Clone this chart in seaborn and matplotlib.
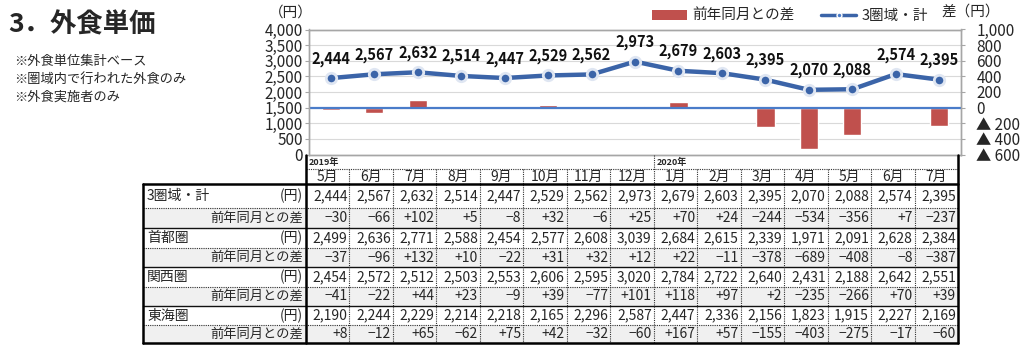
import numpy as np
import pandas as pd
import matplotlib
matplotlib.use("Agg")
import matplotlib.pyplot as plt
from matplotlib.patches import Patch
from matplotlib.lines import Line2D
import seaborn as sns

# ---- data -------------------------------------------------------------
periods = ["2019-05", "2019-06", "2019-07", "2019-08", "2019-09", "2019-10",
           "2019-11", "2019-12", "2020-01", "2020-02", "2020-03", "2020-04",
           "2020-05", "2020-06", "2020-07"]
months = ["5月", "6月", "7月", "8月", "9月", "10月", "11月", "12月",
          "1月", "2月", "3月", "4月", "5月", "6月", "7月"]
year_labels = ["2019年", "2020年"]
year_starts = [0, 8]

total = [2444, 2567, 2632, 2514, 2447, 2529, 2562, 2973, 2679, 2603, 2395, 2070, 2088, 2574, 2395]
total_diff = [-30, -66, 102, 5, -8, 32, -6, 25, 70, 24, -244, -534, -356, 7, -237]
shutoken = [2499, 2636, 2771, 2588, 2454, 2577, 2608, 3039, 2684, 2615, 2339, 1971, 2091, 2628, 2384]
shutoken_diff = [-37, -96, 132, 10, -22, 31, 32, 12, 22, -11, -378, -689, -408, -8, -387]
kansai = [2454, 2572, 2512, 2503, 2553, 2606, 2595, 3020, 2784, 2722, 2640, 2431, 2188, 2642, 2551]
kansai_diff = [-41, -22, 44, 23, -9, 39, -77, 101, 118, 97, 2, -235, -266, 70, 39]
tokai = [2190, 2244, 2229, 2214, 2218, 2165, 2296, 2587, 2447, 2336, 2156, 1823, 1915, 2227, 2169]
tokai_diff = [8, -12, 65, -62, 75, 42, -32, -60, 167, 57, -155, -403, -275, -17, -60]

region_names = ["3圏域・計", "首都圏", "関西圏", "東海圏"]
region_values = [total, shutoken, kansai, tokai]
region_diffs = [total_diff, shutoken_diff, kansai_diff, tokai_diff]

left_ticks = list(range(0, 4001, 500))
right_ticks = list(range(-600, 1001, 200))

df = pd.DataFrame({"period": periods, "total": total, "diff": total_diff})

# ---- style ------------------------------------------------------------
sns.set_theme(style="white")
plt.rcParams["font.family"] = ["Noto Sans CJK JP", "DejaVu Sans"]

BLUE = "#3b64a8"
ZERO_BLUE = "#4a7cc9"
RED = "#c0504d"
SPINE = "#a6a6a6"
GRID = "#d9d9d9"

W, H = 1024, 350
fig = plt.figure(figsize=(W / 100, H / 100), dpi=100)


def fx(px):
    return px / W


def fy(py):
    return 1 - py / H


plot_left, plot_right, plot_top, plot_bottom = 309, 961, 29.5, 154.5
ax = fig.add_axes([fx(plot_left), fy(plot_bottom),
                   (plot_right - plot_left) / W, (plot_bottom - plot_top) / H])
ax2 = ax.twinx()

# ---- bars: difference from same month last year (right axis) ----------
sns.barplot(data=df, x="period", y="diff", ax=ax2, color=RED, saturation=1,
            width=0.42, errorbar=None, zorder=2)
ax2.set_ylim(-600, 1000)
ax2.set_yticks(right_ticks)
ax2.set_yticklabels([f"▲ {abs(v):,}" if v < 0 else f"{v:,}" for v in right_ticks])
ax2.axhline(0, color=ZERO_BLUE, lw=1.6, zorder=3)
ax2.yaxis.grid(True, color=GRID, lw=0.8)
ax2.set_axisbelow(True)
ax2.set_xlabel("")
ax2.set_ylabel("")
ax2.tick_params(axis="y", direction="out", length=3, width=0.8, color=SPINE,
                pad=8, labelsize=11, right=True)

# ---- line: 3-region average unit price (left axis) --------------------
sns.pointplot(data=df, x="period", y="total", ax=ax, color=BLUE, errorbar=None,
              markers="o", linestyles="-", linewidth=3.2, markersize=7.5)
for ln in ax.lines:
    ln.set_markerfacecolor(BLUE)
    ln.set_markeredgecolor("#dfe6f2")
    ln.set_markeredgewidth(2.0)
    ln.set_zorder(4)

for i, v in enumerate(total):
    ax.annotate(f"{v:,}", (i, v), xytext=(0, 14), textcoords="offset points",
                ha="center", va="center", fontsize=10.5, fontweight="bold",
                color="#111111")

ax.set_ylim(0, 4000)
ax.set_yticks(left_ticks)
ax.set_yticklabels([f"{v:,}" for v in left_ticks])
ax.set_xlim(-0.5, len(periods) - 0.5)
ax2.set_xlim(-0.5, len(periods) - 0.5)
ax.set_xlabel("")
ax.set_ylabel("")
ax.set_xticks([])
ax2.set_xticks([])
ax.tick_params(axis="y", direction="out", length=3, width=0.8, color=SPINE,
               pad=1.5, labelsize=11, left=True)
ax.set_zorder(ax2.get_zorder() + 1)
ax.patch.set_visible(False)
for a in (ax, ax2):
    for s in a.spines.values():
        s.set_color(SPINE)
        s.set_linewidth(1.0)

# ---- texts around the chart ------------------------------------------
fig.text(fx(8), fy(25), "3．外食単価", fontsize=19, fontweight="bold",
         ha="left", va="center")
notes = ["※外食単位集計ベース", "※圏域内で行われた外食のみ", "※外食実施者のみ"]
for k, t in enumerate(notes):
    fig.text(fx(14), fy(61 + 18 * k), t, fontsize=9.5, ha="left", va="center")
fig.text(fx(291), fy(13), "（円）", fontsize=10.5, ha="center", va="center")
fig.text(fx(971), fy(12), "差（円）", fontsize=10.5, ha="center", va="center")

handles = [Patch(facecolor=RED, edgecolor="none"),
           Line2D([], [], color=BLUE, lw=2.5, marker="o", markersize=3.5,
                  markerfacecolor=ZERO_BLUE, markeredgecolor="white")]
fig.legend(handles, ["前年同月との差", "3圏域・計"], loc="center",
           bbox_to_anchor=(fx(790), fy(16)), ncol=2, frameon=False,
           fontsize=10.5, handlelength=2.4, handleheight=0.6,
           columnspacing=1.8, handletextpad=0.4)

# ---- data table -------------------------------------------------------
tax = fig.add_axes([0, 0, 1, 1], zorder=10)
tax.set_xlim(0, W)
tax.set_ylim(H, 0)
tax.axis("off")

t_left, t_label_right, t_right = 143, 306, 958
y_year_top, y_year_bot, y_head_bot = plot_bottom, 169, 184
row_edges = [184, 208, 228, 248, 267, 287, 306, 325, 343]
col_edges = np.linspace(t_label_right, t_right, len(periods) + 1)
dot = (0, (1, 1))

# shaded difference rows
for r in range(1, 8, 2):
    tax.fill_between([t_left, t_right], row_edges[r], row_edges[r + 1],
                     color="#f0f0f0", lw=0, zorder=0)

# year row
for lab, s in zip(year_labels, year_starts):
    tax.text(col_edges[s] + 3, (y_year_top + y_year_bot) / 2 + 1, lab,
             fontsize=6.5, fontweight="bold", ha="left", va="center")
tax.plot([t_label_right, t_right], [y_year_bot, y_year_bot], color="#333333",
         lw=0.8, ls=dot)

# month header
for j, m in enumerate(months):
    tax.text((col_edges[j] + col_edges[j + 1]) / 2, (y_year_bot + y_head_bot) / 2,
             m, fontsize=10, ha="center", va="center")

# row contents
for g, (name, vals, diffs) in enumerate(zip(region_names, region_values, region_diffs)):
    r0 = 2 * g
    yc = (row_edges[r0] + row_edges[r0 + 1]) / 2
    yd = (row_edges[r0 + 1] + row_edges[r0 + 2]) / 2
    tax.text(t_left + 4, yc, name, fontsize=10, ha="left", va="center")
    tax.text(t_label_right - 3, yc, "(円)", fontsize=10, ha="right", va="center")
    tax.text(t_label_right - 3, yd, "前年同月との差", fontsize=9.5,
             ha="right", va="center")
    for j in range(len(periods)):
        xr = col_edges[j + 1] - 2
        tax.text(xr, yc, f"{vals[j]:,}", fontsize=10, ha="right", va="center")
        d = diffs[j]
        dtxt = f"+{d}" if d > 0 else f"\u2212{abs(d)}"
        tax.text(xr, yd, dtxt, fontsize=10, ha="right", va="center")
    # dotted line between value row and its difference row
    tax.plot([t_left, t_right], [row_edges[r0 + 1]] * 2, color="#333333",
             lw=0.8, ls=dot)
    # solid line between groups
    if g > 0:
        tax.plot([t_left, t_right], [row_edges[r0]] * 2, color="#111111", lw=1.0)

# column separators
for j in range(1, len(periods)):
    top = y_year_top if j in year_starts else y_year_bot
    tax.plot([col_edges[j]] * 2, [top, row_edges[-1]], color="#333333",
             lw=0.8, ls=dot)

# heavy frame
tax.plot([t_left, t_right], [y_head_bot] * 2, color="black", lw=1.8)
tax.plot([t_left, t_right], [row_edges[-1]] * 2, color="black", lw=1.8)
tax.plot([t_left, t_left], [y_head_bot, row_edges[-1]], color="black", lw=1.8)
tax.plot([t_label_right] * 2, [y_year_top, row_edges[-1]], color="black", lw=1.8)
tax.plot([t_right] * 2, [y_year_top, row_edges[-1]], color="black", lw=1.8)

fig.savefig("out.png", dpi=100)
